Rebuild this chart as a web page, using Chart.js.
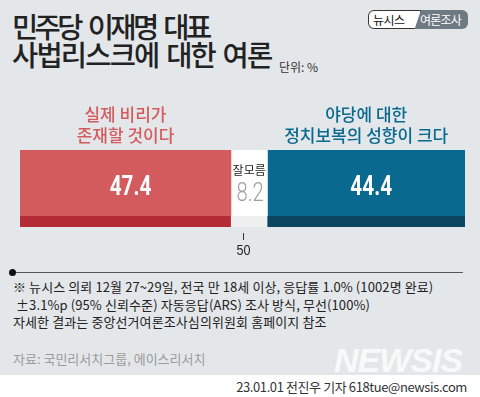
<!DOCTYPE html>
<html>
<head>
<meta charset="utf-8">
<script src="https://cdn.jsdelivr.net/npm/chart.js@4/dist/chart.umd.min.js"></script>
<style>
  html, body { margin: 0; padding: 0; }
  body { width: 480px; height: 397px; position: relative; overflow: hidden; background: #fff;
         font-family: "Noto Sans CJK KR", "Noto Sans", sans-serif; }
  #bg { position: absolute; left: 0; top: 0; width: 480px; height: 375px; background: #e4e7ea; }
  .t { position: absolute; white-space: nowrap; }
  #title { left: 12px; top: 12px; font-size: 28.5px; line-height: 28px; font-weight: 500; color: #222; }
  #title .a { letter-spacing: -3.6px; word-spacing: 5px; }
  #title .b { letter-spacing: -1.8px; word-spacing: 3px; }
  #unit { left: 279px; top: 58px; font-size: 12px; color: #333; }
  #badge { position: absolute; left: 368px; top: 10px; width: 100px; height: 19px; border-radius: 6px;
           background: #6e7a83; overflow: hidden; font-size: 12px; line-height: 19px; }
  #badge .l { position: absolute; left: 0; top: 0; width: 47px; height: 17px; background: #fff; border: 1px solid #333;
              border-radius: 6px 0 0 6px; clip-path: polygon(0 0, 100% 0, 88% 100%, 0 100%); color: #111;
              line-height: 17px; padding-left: 4px; box-sizing: content-box; letter-spacing: -0.5px; }
  #badge .r { position: absolute; left: 52px; top: 0; color: #fff; letter-spacing: -0.8px; }
  #note { left: 13px; top: 278px; font-size: 13px; line-height: 17.5px; color: #222; letter-spacing: 0.1px; }
  #src { left: 13px; top: 349px; font-size: 13px; color: #9a9a9a; letter-spacing: 0; }
  #logo { left: 334px; top: 341px; font-family: "Liberation Sans", sans-serif; font-size: 34px; font-weight: bold;
          font-style: italic; color: rgba(255,255,255,0.75); letter-spacing: -1px; }
  #credit { right: 13px; top: 377px; font-size: 13px; color: #333; letter-spacing: -0.4px; }
  canvas { position: absolute; left: 0; top: 0; }
</style>
</head>
<body>
<div id="bg"></div>
<div class="t" id="title"><span class="a">민주당 이재명 대표</span><br><span class="b">사법리스크에 대한 여론</span></div>
<div class="t" id="unit">단위: %</div>
<div id="badge"><span class="l">뉴시스</span><span class="r">여론조사</span></div>
<div class="t" id="note">※ 뉴시스 의뢰 12월 27~29일, 전국 만 18세 이상, 응답률 1.0% (1002명 완료)<br>&nbsp;±3.1%p (95% 신뢰수준) 자동응답(ARS) 조사 방식, 무선(100%)<br>자세한 결과는 중앙선거여론조사심의위원회 홈페이지 참조</div>
<div class="t" id="src">자료: 국민리서치그룹, 에이스리서치</div>
<div class="t" id="logo">NEWSIS</div>
<div class="t" id="credit">23.01.01 전진우 기자 618tue@newsis.com</div>
<canvas id="chart" width="480" height="397"></canvas>
<script>
// answers and shares (%)
const answers = ['실제 비리가\n존재할 것이다', '잘모름', '야당에 대한\n정치보복의 성향이 크다'];
const shares = [47.4, 8.2, 44.4];
const fills = ['#d35b5e', '#ffffff', '#0a698e'];
const strips = ['#b52c37', '#f0f0f0', '#0b4661'];
const headColors = ['#d35b5e', '#222222', '#0a698e'];
const midTick = 50;

// narrow number text: squeeze horizontally around its centre
function narrowText(ctx, text, x, y, squeeze) {
  ctx.save();
  ctx.translate(x, y);
  ctx.scale(squeeze, 1);
  ctx.fillText(text, 0, 0);
  ctx.restore();
}

// darker strip at the bottom of each segment + labels
const barDecor = {
  id: 'barDecor',
  afterDatasetsDraw(chart) {
    const ctx = chart.ctx;
    ctx.save();
    chart.data.datasets.forEach((ds, i) => {
      const bar = chart.getDatasetMeta(i).data[0];
      const left = Math.min(bar.base, bar.x), right = Math.max(bar.base, bar.x);
      const bottom = bar.y + bar.height / 2, top = bar.y - bar.height / 2;
      ctx.fillStyle = strips[i];
      ctx.fillRect(left, bottom - 11, right - left, 11);

      const cx = (left + right) / 2;
      ctx.textAlign = 'center';
      ctx.textBaseline = 'middle';
      if (i === 1) {
        ctx.fillStyle = '#222';
        ctx.font = '12px "Noto Sans CJK KR"';
        ctx.fillText(answers[i], cx, top + 20);
        ctx.fillStyle = '#a0a0a0';
        ctx.font = '300 26px Roboto, sans-serif';
        narrowText(ctx, shares[i].toFixed(1), cx + 1, top + 44, 0.78);
      } else {
        ctx.fillStyle = '#fff';
        ctx.font = 'bold 28px Roboto, sans-serif';
        narrowText(ctx, shares[i].toFixed(1), cx + 5, top + 38, 0.74);
        ctx.fillStyle = headColors[i];
        ctx.font = '500 17px "Noto Sans CJK KR"';
        answers[i].split('\n').forEach((line, k) => ctx.fillText(line, cx, top - 35 + k * 21));
      }
    });
    // 50 tick below the bar
    const xs = chart.scales.x;
    const px = Math.round(xs.getPixelForValue(midTick)) + 0.5;
    const by = chart.chartArea.bottom;
    ctx.strokeStyle = '#333';
    ctx.lineWidth = 1;
    ctx.beginPath();
    ctx.moveTo(px, by + 6);
    ctx.lineTo(px, by + 13);
    ctx.stroke();
    ctx.fillStyle = '#222';
    ctx.font = '14px "Liberation Sans", sans-serif';
    narrowText(ctx, String(midTick), px, by + 24, 0.9);

    // timeline rule above the notes
    ctx.strokeStyle = '#555';
    ctx.beginPath();
    ctx.moveTo(12, 272.5);
    ctx.lineTo(463, 272.5);
    ctx.stroke();
    ctx.fillStyle = '#111';
    ctx.beginPath();
    ctx.arc(12.5, 272.5, 3.5, 0, Math.PI * 2);
    ctx.fill();
    ctx.restore();
  }
};

new Chart(document.getElementById('chart'), {
  type: 'bar',
  data: {
    labels: [''],
    datasets: shares.map((v, i) => ({
      label: answers[i],
      data: [v],
      backgroundColor: fills[i],
      borderWidth: 0,
      barPercentage: 1,
      categoryPercentage: 1
    }))
  },
  options: {
    indexAxis: 'y',
    responsive: false,
    animation: false,
    layout: { padding: { left: 20, right: 15, top: 150, bottom: 170 } },
    scales: {
      x: { stacked: true, min: 0, max: 100, display: false },
      y: { stacked: true, display: false }
    },
    plugins: { legend: { display: false }, tooltip: { enabled: false } }
  },
  plugins: [barDecor]
});
</script>
</body>
</html>
